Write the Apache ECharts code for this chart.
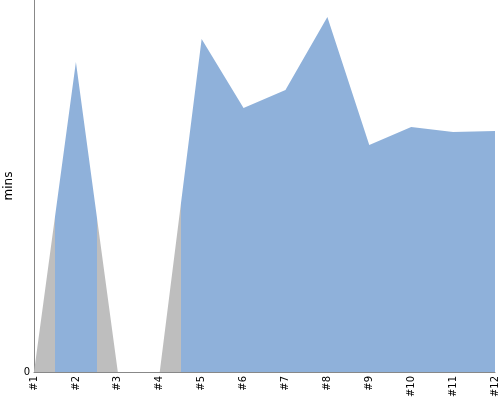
<!DOCTYPE html>
<html>
<head>
<meta charset="utf-8">
<script src="https://cdn.jsdelivr.net/npm/echarts@6/dist/echarts.min.js"></script>
<style>
  html, body { margin: 0; padding: 0; background: #fff; }
  #chart { width: 500px; height: 400px; }
</style>
</head>
<body>
<div id="chart"></div>
<script>
// categories and values
const categories = ['#1', '#2', '#3', '#4', '#5', '#6', '#7', '#8', '#9', '#10', '#11', '#12'];
const minutes = [0, 310, 0, 0, 333, 264, 282, 355, 227, 245, 240, 241];
const yMax = 372;

// value x-axis so the colour bands can switch half way between points
const points = minutes.map((v, i) => [i, v]);

const chart = echarts.init(document.getElementById('chart'));
chart.setOption({
    animation: false,
    grid: { left: 34, right: 5, top: 0, bottom: 28, outerBoundsMode: 'none', containLabel: false },
    xAxis: {
        type: 'value',
        min: 0,
        max: categories.length - 1,
        interval: 1,
        axisLine: { lineStyle: { color: '#888', width: 1 } },
        axisTick: { show: false },
        axisLabel: {
            rotate: 90,
            color: '#000',
            fontFamily: 'DejaVu Sans',
            fontSize: 10,
            margin: 4,
            showMinLabel: true,
            showMaxLabel: true,
            formatter: function (v) { return categories[v] || ''; }
        },
        splitLine: { show: false }
    },
    yAxis: {
        type: 'value',
        min: 0,
        max: yMax,
        interval: yMax,
        name: 'mins',
        nameLocation: 'middle',
        nameGap: 19,
        nameMoveOverlap: false,
        nameTextStyle: { color: '#000', fontFamily: 'DejaVu Sans', fontSize: 12 },
        axisLine: { show: true, lineStyle: { color: '#888', width: 1 } },
        axisTick: { show: false },
        axisLabel: {
            color: '#000',
            fontFamily: 'DejaVu Sans',
            fontSize: 10,
            margin: 4,
            formatter: function (v) { return v === 0 ? '0' : ''; }
        },
        splitLine: { show: false }
    },
    visualMap: {
        show: false,
        type: 'piecewise',
        dimension: 0,
        seriesIndex: 0,
        pieces: [
            { gt: 0.5, lte: 1.5, color: '#8fb1da' },
            { gt: 3.5, color: '#8fb1da' }
        ],
        outOfRange: { color: '#bebebe' }
    },
    series: [
        {
            type: 'line',
            data: points,
            symbol: 'none',
            lineStyle: { width: 0 },
            areaStyle: { opacity: 1 }
        }
    ]
});
</script>
</body>
</html>
